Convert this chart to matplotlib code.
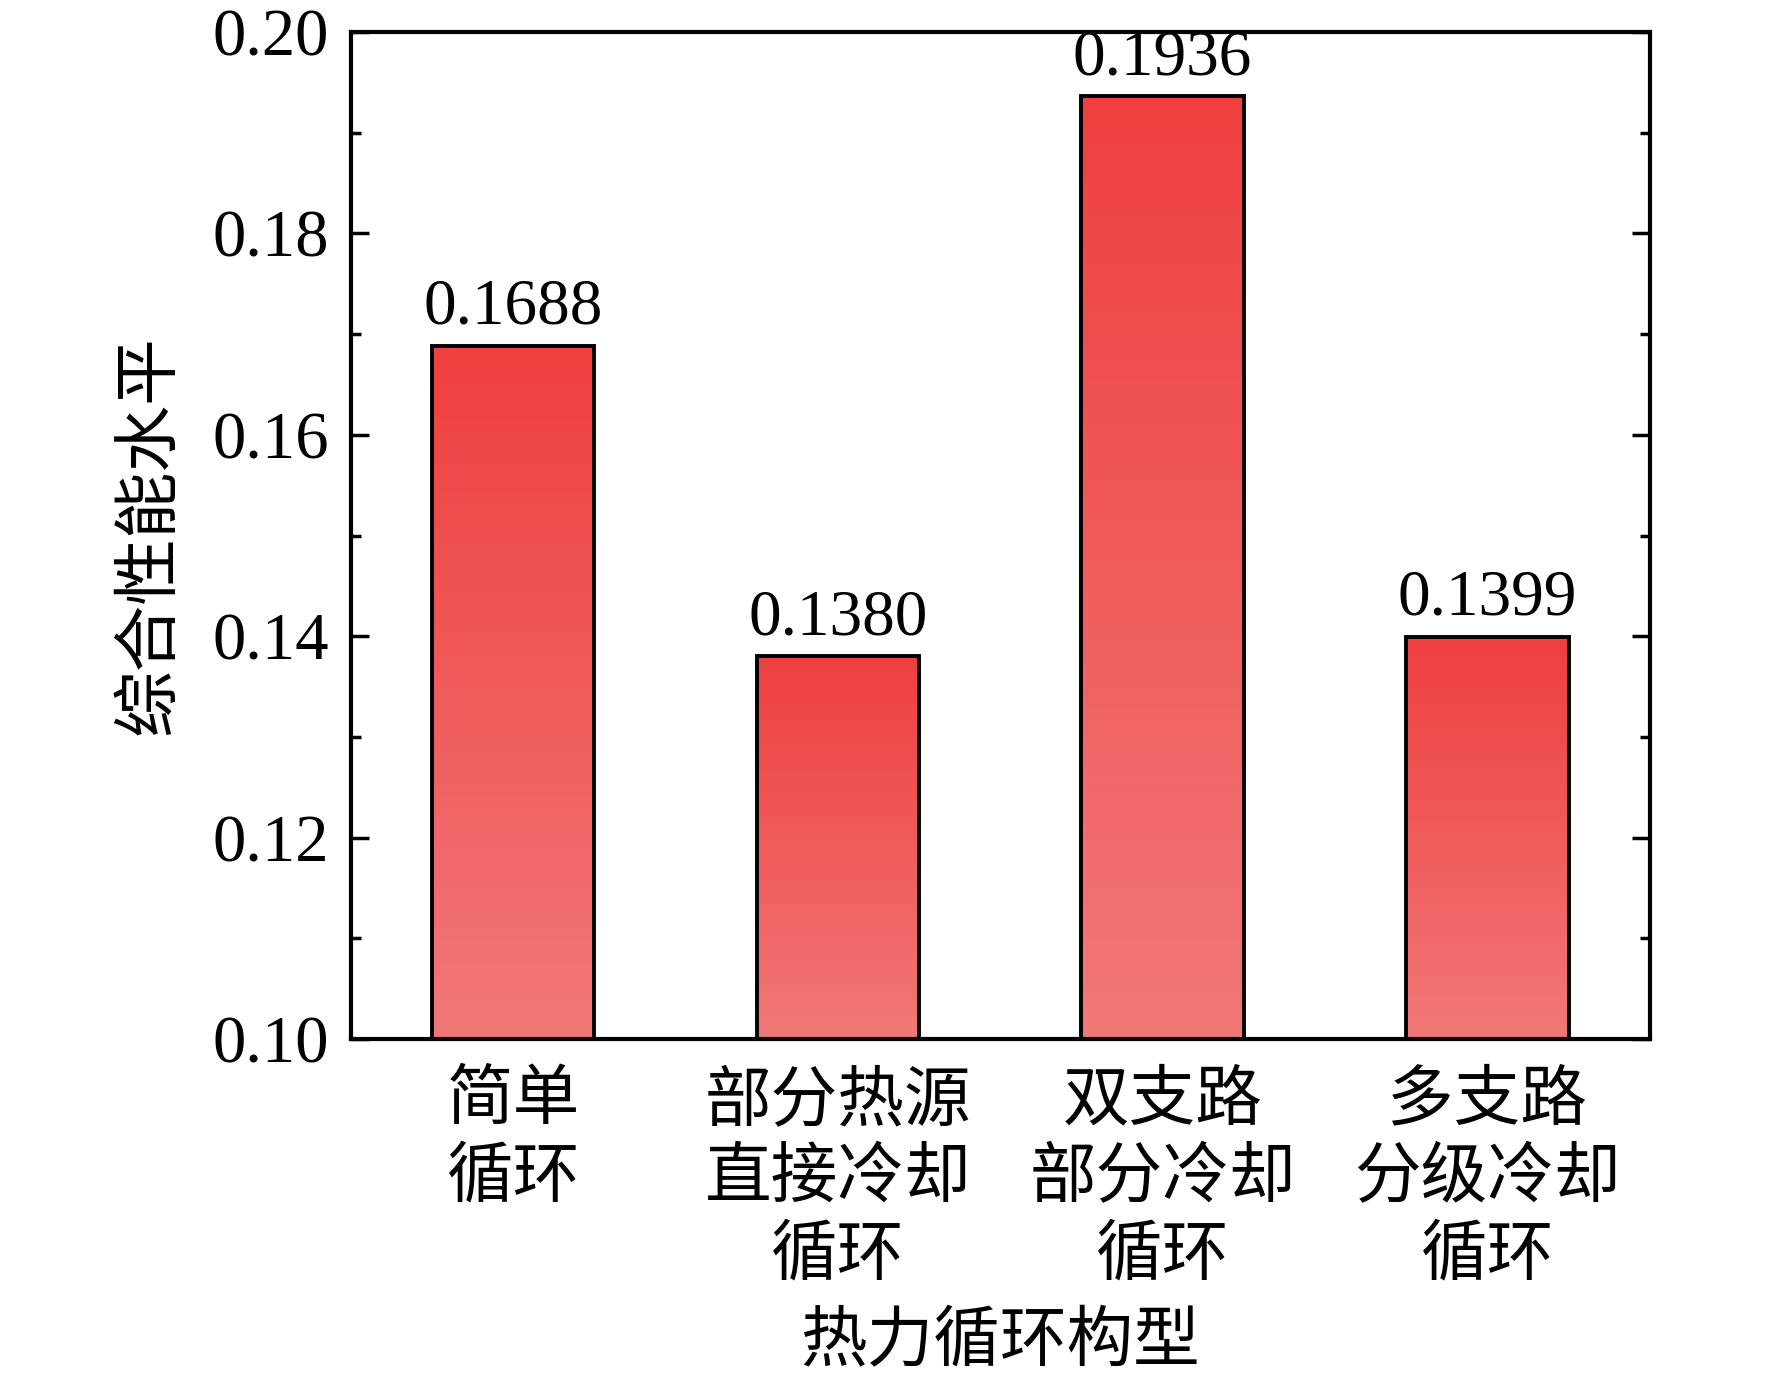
import numpy as np
import matplotlib
matplotlib.use("Agg")
import matplotlib.pyplot as plt
from matplotlib.colors import LinearSegmentedColormap
from matplotlib.ticker import MultipleLocator, AutoMinorLocator

plt.rcParams['font.family'] = ['Liberation Serif', 'Noto Sans CJK SC']

# data
categories = ['简单\n循环', '部分热源\n直接冷却\n循环', '双支路\n部分冷却\n循环', '多支路\n分级冷却\n循环']
values = [0.1688, 0.1380, 0.1936, 0.1399]
labels = ['0.1688', '0.1380', '0.1936', '0.1399']
y_min, y_max = 0.10, 0.20

fig = plt.figure(figsize=(17.72, 13.91), dpi=100)
ax = fig.add_axes([0.198, 0.253, 0.733, 0.724])

# gradient fill: light at the bottom, darker red at the top
cmap = LinearSegmentedColormap.from_list('bar_grad', ['#F27878', '#EF3F3F'])
grad = np.linspace(0, 1, 256).reshape(-1, 1)
width = 0.5
x = np.arange(len(values))
for xi, v in zip(x, values):
    ax.imshow(grad, cmap=cmap, origin='lower', aspect='auto',
              extent=[xi - width / 2, xi + width / 2, y_min, v], zorder=2)
bars = ax.bar(x, np.array(values) - y_min, bottom=y_min, width=width,
              facecolor='none', edgecolor='black', linewidth=2.8, zorder=3)

for xi, v, lab in zip(x, values, labels):
    ax.annotate(lab, (xi, v), xytext=(0, 6), textcoords='offset points',
                ha='center', va='bottom', fontsize=47)

ax.set_xlim(-0.5, 3.5)
ax.set_ylim(y_min, y_max)
ax.set_xticks(x)
ax.set_xticklabels(categories, fontsize=48, linespacing=1.33)
ax.yaxis.set_major_locator(MultipleLocator(0.02))
ax.yaxis.set_minor_locator(AutoMinorLocator(2))
ax.yaxis.set_major_formatter(plt.FormatStrFormatter('%.2f'))

ax.tick_params(axis='y', which='both', direction='in', left=True, right=True,
               labelsize=48, width=2.5, pad=16)
ax.tick_params(axis='y', which='major', length=13)
ax.tick_params(axis='y', which='minor', length=7)
ax.tick_params(axis='x', which='both', bottom=False, top=False, pad=20)

for sp in ax.spines.values():
    sp.set_linewidth(3)

ax.set_ylabel('综合性能水平', fontsize=48)
ax.yaxis.set_label_coords(-0.13, 0.5)
ax.set_xlabel('热力循环构型', fontsize=48)
ax.xaxis.set_label_coords(0.5, -0.272)

fig.savefig('out.png', dpi=100)
